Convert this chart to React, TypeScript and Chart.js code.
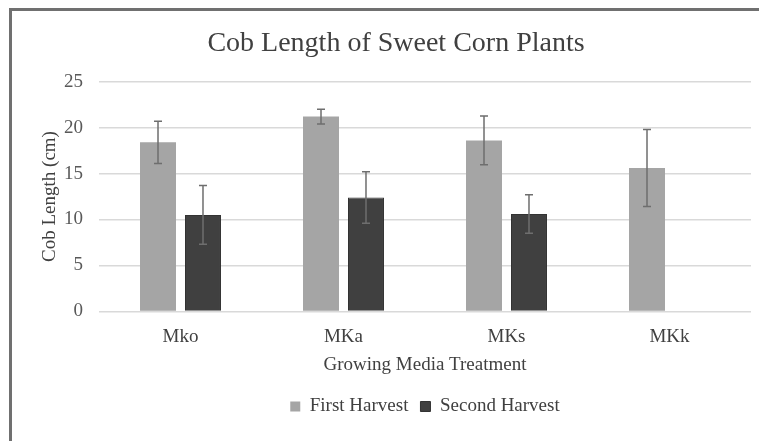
import React, { useEffect, useRef } from "react";
import { Chart, registerables } from "chart.js";

Chart.register(...registerables);

const categories = ["Mko", "MKa", "MKs", "MKk"];
const firstHarvest = [18.4, 21.2, 18.6, 15.6];
const firstHarvestErr = [2.3, 0.8, 2.65, 4.2];
const secondHarvest: (number | null)[] = [10.5, 12.4, 10.6, null];
const secondHarvestErr: (number | null)[] = [3.2, 2.8, 2.1, null];
const errorsBySeries = [firstHarvestErr, secondHarvestErr];

const SERIF = "'Liberation Serif', 'Times New Roman', serif";

const framePlugin = {
  id: "frame",
  beforeDraw(chart: any) {
    const ctx = chart.ctx;
    ctx.save();
    ctx.strokeStyle = "#707070";
    ctx.lineWidth = 3;
    ctx.beginPath();
    ctx.moveTo(10.5, chart.height);
    ctx.lineTo(10.5, 9.5);
    ctx.lineTo(chart.width, 9.5);
    ctx.stroke();
    ctx.restore();
  },
};

const errorBarPlugin = {
  id: "errorBars",
  afterDatasetsDraw(chart: any) {
    const ctx = chart.ctx;
    const yScale = chart.scales.y;
    ctx.save();
    ctx.strokeStyle = "#6e6e6e";
    ctx.lineWidth = 1.5;
    chart.data.datasets.forEach((ds: any, i: number) => {
      const meta = chart.getDatasetMeta(i);
      const errs = errorsBySeries[i];
      meta.data.forEach((el: any, j: number) => {
        const v = ds.data[j];
        const e = errs[j];
        if (v == null || e == null) return;
        const x = el.x;
        const yTop = yScale.getPixelForValue(v + e);
        const yBot = yScale.getPixelForValue(v - e);
        ctx.beginPath();
        ctx.moveTo(x, yTop);
        ctx.lineTo(x, yBot);
        ctx.moveTo(x - 4, yTop);
        ctx.lineTo(x + 4, yTop);
        ctx.moveTo(x - 4, yBot);
        ctx.lineTo(x + 4, yBot);
        ctx.stroke();
      });
    });
    ctx.restore();
  },
};

export default function App() {
  const canvasRef = useRef<HTMLCanvasElement | null>(null);

  useEffect(() => {
    if (!canvasRef.current) return;
    const chart = new Chart(canvasRef.current, {
      type: "bar",
      data: {
        labels: categories,
        datasets: [
          {
            label: "First Harvest",
            data: firstHarvest,
            backgroundColor: "#a5a5a5",
            categoryPercentage: 0.552,
            barPercentage: 0.8,
          },
          {
            label: "Second Harvest",
            data: secondHarvest,
            backgroundColor: "#404040",
            borderColor: "#333333",
            borderWidth: 1,
            categoryPercentage: 0.552,
            barPercentage: 0.8,
          },
        ],
      },
      options: {
        responsive: false,
        animation: false,
        layout: { padding: { left: 41, right: 8, top: 0, bottom: 15 } },
        plugins: {
          title: {
            display: true,
            text: "Cob Length of Sweet Corn Plants",
            color: "#404040",
            font: { family: SERIF, size: 28, weight: "normal" },
            padding: { top: 27, bottom: 21 },
          },
          legend: {
            position: "bottom",
            fullSize: false,
            labels: {
              color: "#404040",
              font: { family: SERIF, size: 19 },
              boxWidth: 10,
              boxHeight: 10,
              padding: 12,
            },
          },
          tooltip: { enabled: false },
        },
        scales: {
          x: {
            grid: { display: false, drawTicks: false },
            border: { display: false },
            ticks: {
              color: "#404040",
              font: { family: SERIF, size: 19 },
              padding: 14,
            },
            title: {
              display: true,
              text: "Growing Media Treatment",
              color: "#404040",
              font: { family: SERIF, size: 19 },
              padding: { top: -9, bottom: 9 },
            },
          },
          y: {
            min: 0,
            max: 25,
            ticks: {
              stepSize: 5,
              color: "#595959",
              font: { family: SERIF, size: 19 },
              padding: 16,
            },
            grid: { color: "#d9d9d9", lineWidth: 1.5, drawTicks: false },
            border: { display: false },
            title: {
              display: true,
              text: "Cob Length (cm)",
              color: "#404040",
              font: { family: SERIF, size: 19, lineHeight: 1 },
              padding: 0,
            },
            afterFit: (scale: any) => {
              scale.width = 58;
            },
          },
        },
      },
      plugins: [framePlugin, errorBarPlugin],
    });
    return () => chart.destroy();
  }, []);

  return (
    <div style={{ position: "fixed", left: 0, top: 0, width: 759, height: 441, background: "#fff" }}>
      <canvas ref={canvasRef} width={759} height={441} style={{ display: "block" }} />
    </div>
  );
}
